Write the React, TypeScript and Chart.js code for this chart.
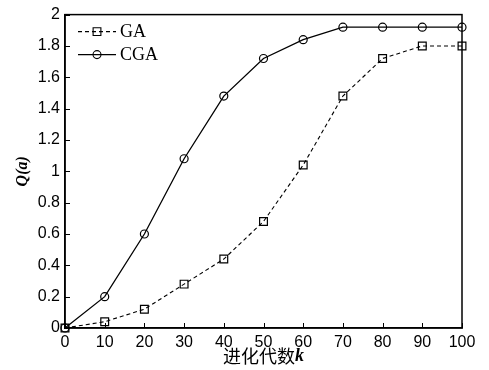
import React, { useEffect, useRef } from "react";
import { Chart, registerables } from "chart.js";

Chart.register(...registerables);

const generations = [0, 10, 20, 30, 40, 50, 60, 70, 80, 90, 100];
const gaValues = [0, 0.04, 0.12, 0.28, 0.44, 0.68, 1.04, 1.48, 1.72, 1.8, 1.8];
const cgaValues = [0, 0.2, 0.6, 1.08, 1.48, 1.72, 1.84, 1.92, 1.92, 1.92, 1.92];
const seriesNames = ["GA", "CGA"];
const xTitleCJK = "进化代数";
const xTitleVar = "k";
const yTitle = "Q(a)";

const W = 489;
const H = 370;

const decorPlugin = {
  id: "decor",
  afterDraw(chart: any) {
    const { ctx, chartArea: a, scales } = chart;
    ctx.save();
    // frame
    ctx.strokeStyle = "#000";
    ctx.lineWidth = 1.5;
    ctx.strokeRect(a.left, a.top, a.right - a.left, a.bottom - a.top);
    // inward ticks
    ctx.lineWidth = 1;
    const xs = scales.x;
    xs.ticks.forEach((t: any, i: number) => {
      const px = Math.round(xs.getPixelForTick(i)) + 0.5;
      ctx.beginPath();
      ctx.moveTo(px, a.bottom);
      ctx.lineTo(px, a.bottom - 5);
      ctx.stroke();
    });
    const ys = scales.y;
    ys.ticks.forEach((t: any, i: number) => {
      const py = Math.round(ys.getPixelForTick(i)) + 0.5;
      ctx.beginPath();
      ctx.moveTo(a.left, py);
      ctx.lineTo(a.left + 5, py);
      ctx.stroke();
    });

    // legend
    const legendItems = [
      { name: seriesNames[0], dash: [4, 3], style: "rect", r: 5.5, y: a.top + 17 },
      { name: seriesNames[1], dash: [], style: "circle", r: 4, y: a.top + 40 },
    ];
    legendItems.forEach((it) => {
      ctx.strokeStyle = "#000";
      ctx.lineWidth = 1.1;
      ctx.setLineDash(it.dash);
      ctx.beginPath();
      ctx.moveTo(a.left + 13, it.y);
      ctx.lineTo(a.left + 51, it.y);
      ctx.stroke();
      ctx.setLineDash([]);
      ctx.beginPath();
      const cx = a.left + 32;
      if (it.style === "rect") {
        const s = it.r * Math.SQRT1_2;
        ctx.rect(cx - s, it.y - s, 2 * s, 2 * s);
      } else {
        ctx.arc(cx, it.y, it.r, 0, Math.PI * 2);
      }
      ctx.stroke();
      ctx.fillStyle = "#000";
      ctx.font = "18px 'Liberation Serif', serif";
      ctx.textBaseline = "middle";
      ctx.textAlign = "left";
      ctx.fillText(it.name, a.left + 55, it.y + 1);
    });

    // x title
    ctx.fillStyle = "#000";
    ctx.textBaseline = "middle";
    ctx.font = "18px 'Noto Sans CJK SC', sans-serif";
    const w1 = ctx.measureText(xTitleCJK).width;
    ctx.font = "bold italic 18px 'Liberation Serif', serif";
    const w2 = ctx.measureText(xTitleVar).width;
    const cxm = (a.left + a.right) / 2;
    let sx = cxm - (w1 + w2) / 2;
    ctx.font = "18px 'Noto Sans CJK SC', sans-serif";
    ctx.textAlign = "left";
    ctx.fillText(xTitleCJK, sx, 356);
    ctx.font = "bold italic 18px 'Liberation Serif', serif";
    ctx.fillText(xTitleVar, sx + w1, 356);

    // y title
    ctx.translate(23, (a.top + a.bottom) / 2);
    ctx.rotate(-Math.PI / 2);
    ctx.font = "bold italic 16px 'Liberation Serif', serif";
    ctx.textAlign = "center";
    ctx.fillText(yTitle, 0, 0);
    ctx.restore();
  },
};

export default function App() {
  const ref = useRef<HTMLCanvasElement>(null);
  useEffect(() => {
    document.body.style.margin = "0";
    const chart = new Chart(ref.current as HTMLCanvasElement, {
      type: "line",
      data: {
        datasets: [
          {
            label: seriesNames[0],
            data: generations.map((g, i) => ({ x: g, y: gaValues[i] })),
            borderColor: "#000",
            borderWidth: 1.1,
            borderDash: [4, 3],
            pointStyle: "rect",
            pointRadius: 5.5,
            pointBorderWidth: 1.2,
            pointBorderColor: "#000",
            pointBackgroundColor: "rgba(0,0,0,0)",
            fill: false,
            tension: 0,
          },
          {
            label: seriesNames[1],
            data: generations.map((g, i) => ({ x: g, y: cgaValues[i] })),
            borderColor: "#000",
            borderWidth: 1.3,
            pointStyle: "circle",
            pointRadius: 4,
            pointBorderWidth: 1.2,
            pointBorderColor: "#000",
            pointBackgroundColor: "rgba(0,0,0,0)",
            fill: false,
            tension: 0,
          },
        ],
      },
      options: {
        responsive: false,
        animation: false,
        clip: false,
        layout: { padding: { top: 13, right: 27, left: 0, bottom: 0 } },
        plugins: { legend: { display: false }, tooltip: { enabled: false } },
        scales: {
          x: {
            type: "linear",
            min: 0,
            max: 100,
            ticks: {
              stepSize: 10,
              color: "#000",
              padding: 5,
              maxRotation: 0,
              font: { family: "'Liberation Sans', Arial, sans-serif", size: 16 },
            },
            grid: { display: false, drawTicks: false },
            border: { display: true, color: "#000", width: 1.5 },
            afterFit: (s: any) => {
              s.height = 42;
            },
          },
          y: {
            type: "linear",
            min: 0,
            max: 2,
            ticks: {
              stepSize: 0.2,
              color: "#000",
              padding: 5,
              font: { family: "'Liberation Sans', Arial, sans-serif", size: 16 },
              callback: (v: any) => String(Math.round(Number(v) * 10) / 10),
            },
            grid: { display: false, drawTicks: false },
            border: { display: true, color: "#000", width: 1.5 },
            afterFit: (s: any) => {
              s.width = 65;
            },
          },
        },
      },
      plugins: [decorPlugin],
    });
    return () => chart.destroy();
  }, []);
  return <canvas ref={ref} width={W} height={H} style={{ display: "block", width: W, height: H }} />;
}
